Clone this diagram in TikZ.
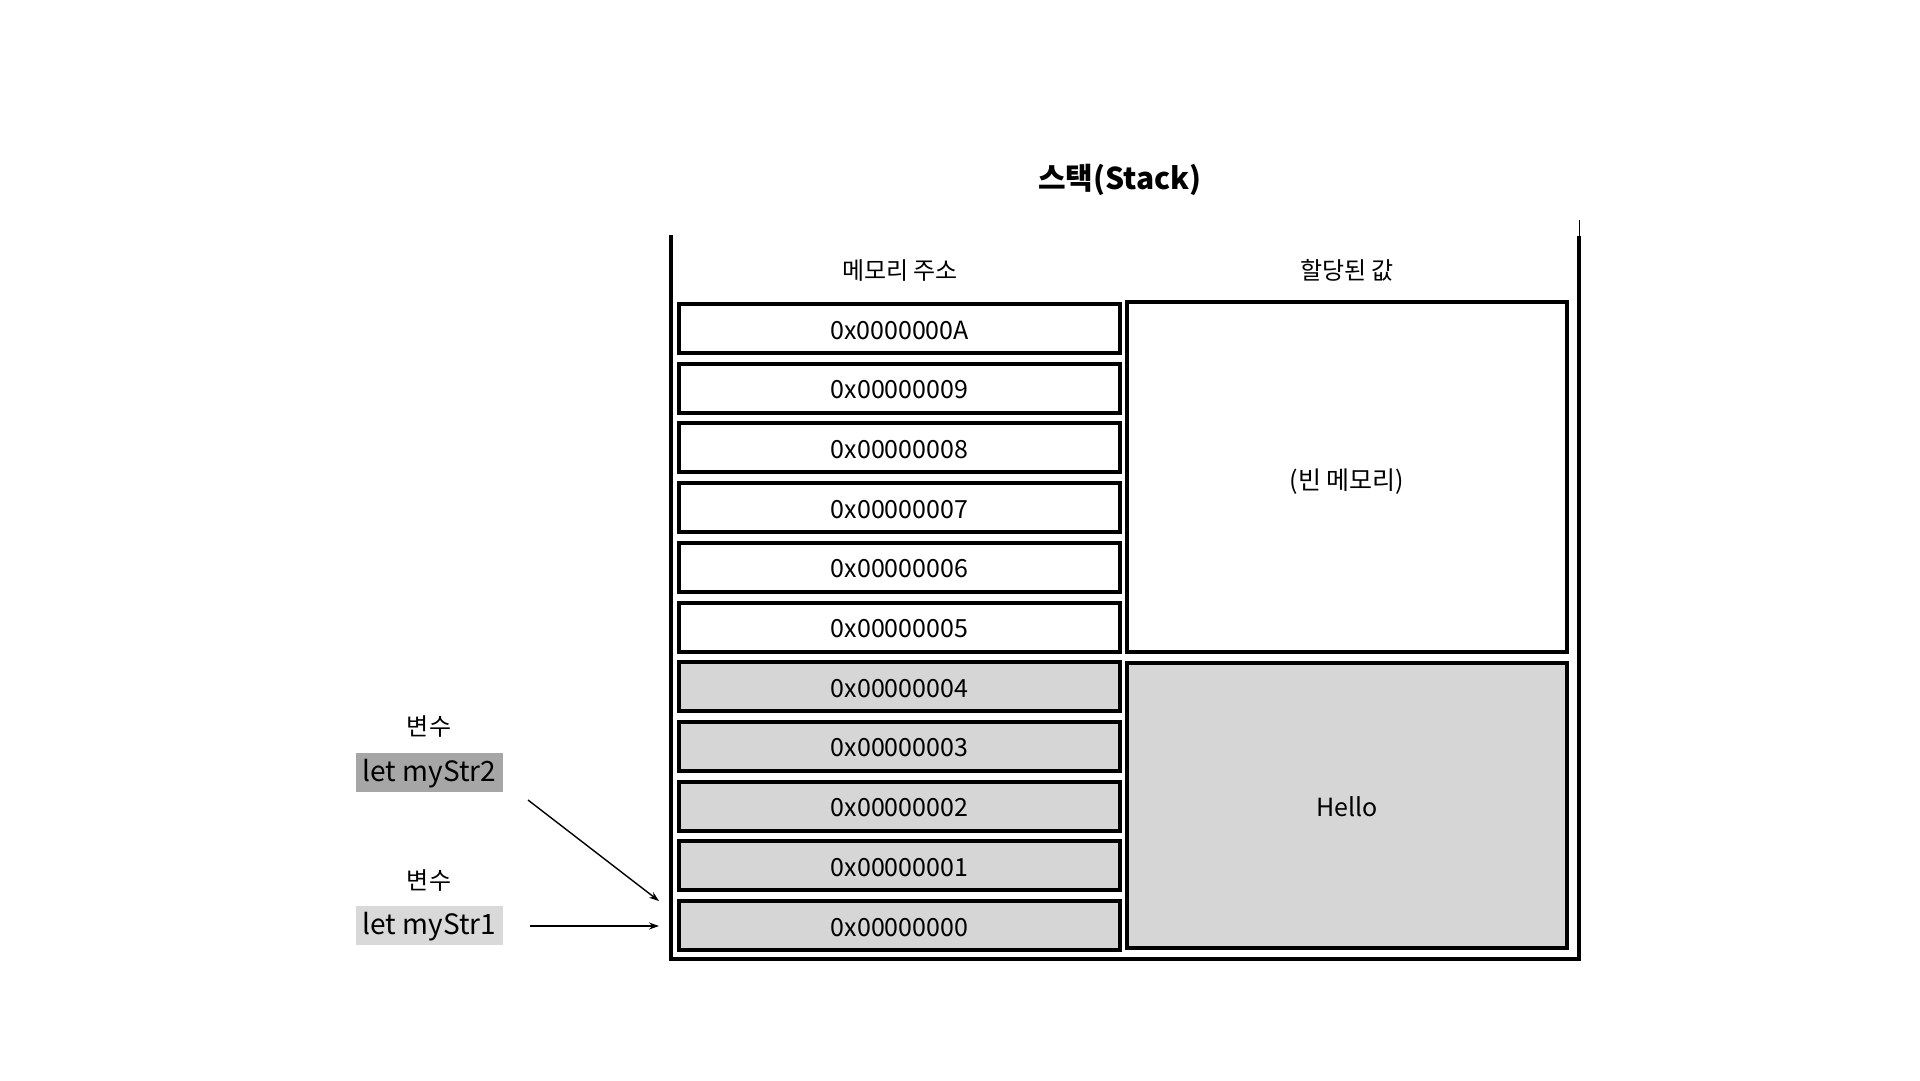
\documentclass[tikz,border=0pt]{standalone}
\usepackage{fontspec}
\setmainfont{Noto Sans CJK KR}
\usetikzlibrary{arrows.meta}
\definecolor{cellgray}{HTML}{D6D6D6}
\definecolor{vardark}{HTML}{A6A6A6}
\definecolor{varlight}{HTML}{D9D9D9}
\begin{document}
\begin{tikzpicture}[x=1pt,y=-1pt,
  txt/.style={inner sep=0pt, font=\fontsize{24}{28}\selectfont},
  addrbox/.style={draw, line width=4pt, minimum width=441pt, minimum height=49pt, inner sep=0pt, text height=21pt, text depth=0pt, font=\fontsize{25}{30}\selectfont},
  valbox/.style={draw, line width=4pt, minimum width=440pt, inner sep=0pt, font=\fontsize{25}{30}\selectfont},
  varbox/.style={minimum width=147pt, minimum height=39pt, inner sep=0pt, text height=25pt, text depth=6.5pt, font=\fontsize{28}{32}\selectfont},
  ptr/.style={line width=1.4pt, -{Stealth[length=10pt,width=7pt]}},
  wall/.style={line width=4pt}
]
\useasboundingbox (0,0) rectangle (1920,1080);

% title
\node[inner sep=0pt, font=\fontsize{30}{34}\selectfont\bfseries] (title) at (1120,180) {스택(Stack)};

% container
\coordinate (cTL) at (671,235);
\coordinate (cBL) at (671,959);
\coordinate (cBR) at (1579,959);
\coordinate (cTR) at (1579,236);
\coordinate (cTRtip) at (1579,220);
\draw[wall] (cTL) -- (cBL) -- (cBR) -- (cTR);
\draw[line width=1pt] (cTR) -- (cTRtip);

% headers
\node[txt] (hAddr) at (900,270.5) {메모리 주소};
\node[txt] (hVal) at (1347,270.5) {할당된 값};

% address cells
\foreach \i/\lab/\fil in {0/0x0000000A/white,1/0x00000009/white,2/0x00000008/white,3/0x00000007/white,4/0x00000006/white,5/0x00000005/white,6/0x00000004/cellgray,7/0x00000003/cellgray,8/0x00000002/cellgray,9/0x00000001/cellgray,10/0x00000000/cellgray}{
  \node[addrbox, fill=\fil] (a\i) at (899.5,{328.5+59.7*\i}) {\lab};
}

% value cells
\node[valbox, minimum height=350pt, text height=29pt, text depth=5pt] (vEmpty) at (1347,477) {(빈 메모리)};
\node[valbox, fill=cellgray, minimum height=285pt, text height=21pt, text depth=0pt] (vHello) at (1347,805.5) {Hello};

% variables
\node[txt] (lab2) at (429,727) {변수};
\node[varbox, fill=vardark] (var2) at (429.5,772.5) {let myStr2};
\node[txt] (lab1) at (429,881) {변수};
\node[varbox, fill=varlight] (var1) at (429.5,925.5) {let myStr1};

% pointers
\coordinate (p2s) at (528,800);
\coordinate (p2e) at (659,901);
\coordinate (p1s) at (530,926);
\coordinate (p1e) at (659,926);
\draw[ptr] (p2s) -- (p2e);
\draw[ptr] (p1s) -- (p1e);
\end{tikzpicture}
\end{document}
